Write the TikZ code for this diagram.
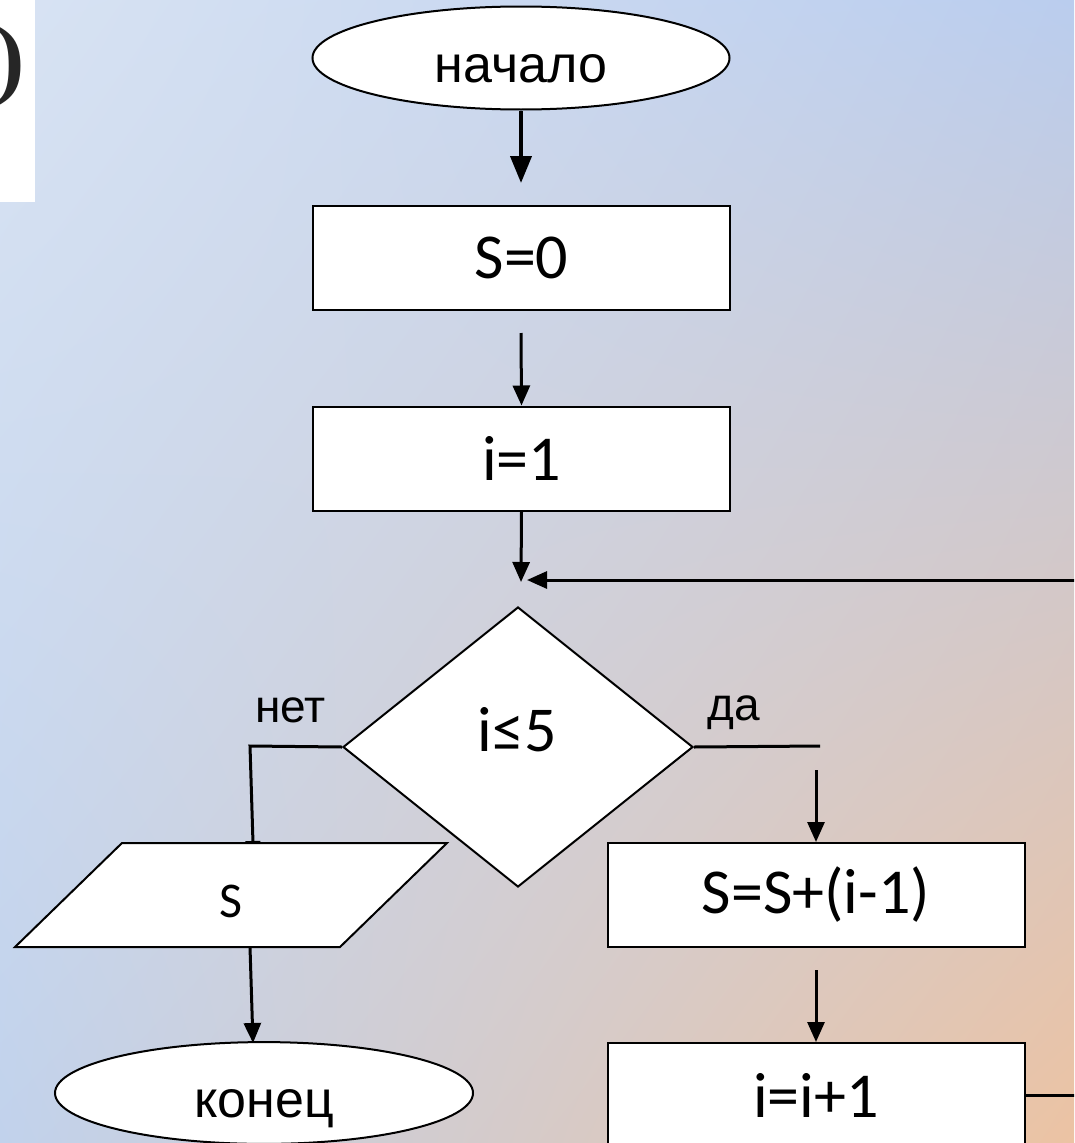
\documentclass[tikz,border=0pt]{standalone}
\usepackage{fontspec}
\setmainfont{Liberation Sans}
\newfontfamily\calfont{Carlito}
\newfontfamily\serfont{Liberation Serif}
\usetikzlibrary{shapes.geometric,arrows.meta,shadings}
\definecolor{bgUL}{RGB}{216,227,243}
\definecolor{bgUR}{RGB}{186,205,238}
\definecolor{bgLL}{RGB}{193,210,236}
\definecolor{bgLR}{RGB}{236,195,163}
\begin{document}
\begin{tikzpicture}[x=1pt,y=-1pt,
  box/.style={draw=black, line width=2pt, fill=white, inner sep=0pt},
  procbox/.style={box, rectangle, minimum width=417pt, minimum height=104pt,
    font=\calfont\fontsize{64}{70}\selectfont},
  termbox/.style={box, ellipse, text height=60pt, text depth=12pt,
    font=\fontsize{52}{58}\selectfont},
  flow/.style={line width=3pt, -{Triangle[length=20pt,width=17pt]}},
  plainline/.style={line width=3pt},
  lab/.style={font=\fontsize{46}{50}\selectfont, inner sep=0pt}
]
\useasboundingbox (0,0) rectangle (1074,1143);
\clip (0,0) rectangle (1074,1143);
\shade[upper left=bgUL, upper right=bgUR, lower left=bgLL, lower right=bgLR]
  (0,0) rectangle (1074,1143);
% partial white panel in the corner
\fill[white] (0,0) rectangle (35,202);
\node[anchor=east, inner sep=0pt, text=black!85, font=\serfont\bfseries\fontsize{88}{88}\selectfont] (paren) at (25,66) {)};

% nodes
\node[termbox, minimum width=417pt, minimum height=103pt] (start) at (521,58) {начало};
\node[procbox] (s0) at (521.5,258) {S=0};
\node[procbox] (i1) at (521.5,458.5) {i=1};
\node[box, diamond, minimum width=350pt, minimum height=280pt] (cond) at (518,747) {};
\node[inner sep=0pt, font=\calfont\fontsize{64}{70}\selectfont] (condtext) at (517,730) {i≤5};
\node[lab, anchor=base west] (no) at (255,722) {нет};
\node[lab, anchor=base west] (yes) at (707,720) {да};
\draw[box] (122,843) coordinate (pTL) -- (447,843) -- (340,947) coordinate (pBR) -- (15,947) -- cycle;
\node[inner sep=0pt, font=\calfont\fontsize{50}{55}\selectfont] (out) at (231,901) {S};
\node[termbox, minimum width=418pt, minimum height=100pt] (end) at (264,1093) {конец};
\node[procbox] (sum) at (816,895) {S=S+(i-1)};
\node[procbox] (inc) at (816,1095) {i=i+1};

% free ends of connectors
\coordinate (a1) at (521,183);
\coordinate (a2) at (521,333);
\coordinate (a3) at (521,582);
\coordinate (loopR) at (1110,1095);
\coordinate (loopT) at (1110,580);
\coordinate (a4) at (527,580);
\coordinate (noC) at (250,746);
\coordinate (noE) at (253,843);
\coordinate (yesE) at (820,746);
\coordinate (a5) at (816,770);
\coordinate (a6) at (816,970);
\coordinate (outS) at (250,947);
\coordinate (endT) at (253,1043);

% connectors
\draw[line width=4pt, -{Triangle[length=27pt,width=21pt]}] (start.south) -- (a1);
\draw[flow] (a2) -- (i1.north);
\draw[flow] (i1.south) -- (a3);
\draw[flow] (inc.east) -- (loopR) -- (loopT) -- (a4);
\draw[plainline, -{Bar[width=15pt,line width=2pt]}] (cond.west) -- (noC) -- (noE);
\draw[plainline] (cond.east) -- (yesE);
\draw[flow] (a5) -- (sum.north);
\draw[flow] (a6) -- (inc.north);
\draw[flow] (outS) -- (endT);
\end{tikzpicture}
\end{document}
